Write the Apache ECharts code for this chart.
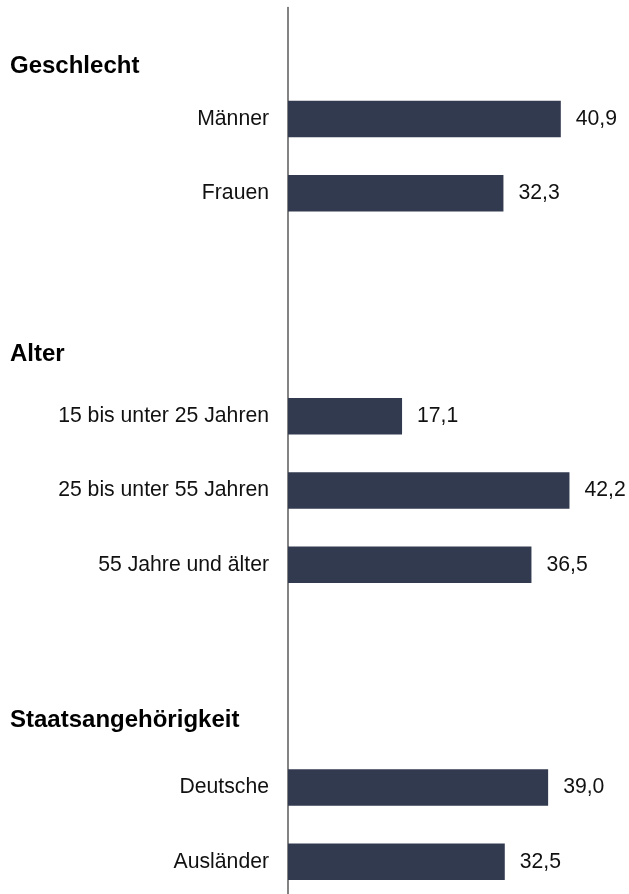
<!DOCTYPE html>
<html>
<head>
<meta charset="utf-8">
<script src="https://cdn.jsdelivr.net/npm/echarts@6/dist/echarts.min.js"></script>
<style>
  html, body { margin: 0; padding: 0; background: #fff; }
  #chart { width: 629px; height: 894px; }
</style>
</head>
<body>
<div id="chart"></div>
<script>
// categories top to bottom; empty strings are the spacer rows between groups
const categories = [
  "", "Männer", "Frauen", "", "",
  "15 bis unter 25 Jahren", "25 bis unter 55 Jahren", "55 Jahre und älter",
  "", "", "Deutsche", "Ausländer"
];
const values = [null, 40.9, 32.3, null, null, 17.1, 42.2, 36.5, null, null, 39.0, 32.5];
const groupTitles = ["Geschlecht", "Alter", "Staatsangehörigkeit"];
const groupTitleY = [66, 354, 720];

const FONT = "Arial, 'Liberation Sans', sans-serif";

const myChart = echarts.init(document.getElementById("chart"));
myChart.setOption({
  animation: false,
  grid: {
    left: 288,
    right: 7.5,
    top: 7.6,
    height: 891.4,
    containLabel: false,
    outerBoundsMode: "none"
  },
  xAxis: {
    type: "value",
    min: 0,
    max: 50,
    show: false
  },
  yAxis: {
    type: "category",
    inverse: true,
    data: categories,
    axisLine: { show: true, lineStyle: { color: "#5a5a5a", width: 1.5 } },
    axisTick: { show: false },
    axisLabel: {
      margin: 19,
      fontFamily: FONT,
      fontSize: 21.2,
      color: "#111"
    }
  },
  series: [
    {
      type: "bar",
      data: values,
      barWidth: 36.5,
      itemStyle: { color: "#323a4f" },
      label: {
        show: true,
        position: "right",
        distance: 15,
        fontFamily: FONT,
        fontSize: 21.2,
        color: "#111",
        formatter: p => p.value.toFixed(1).replace(".", ",")
      }
    }
  ],
  graphic: groupTitles.map((t, i) => ({
    type: "text",
    left: 10,
    top: groupTitleY[i] - 12,
    style: {
      text: t,
      font: "bold 24px " + FONT,
      fill: "#000"
    }
  }))
});
</script>
</body>
</html>
